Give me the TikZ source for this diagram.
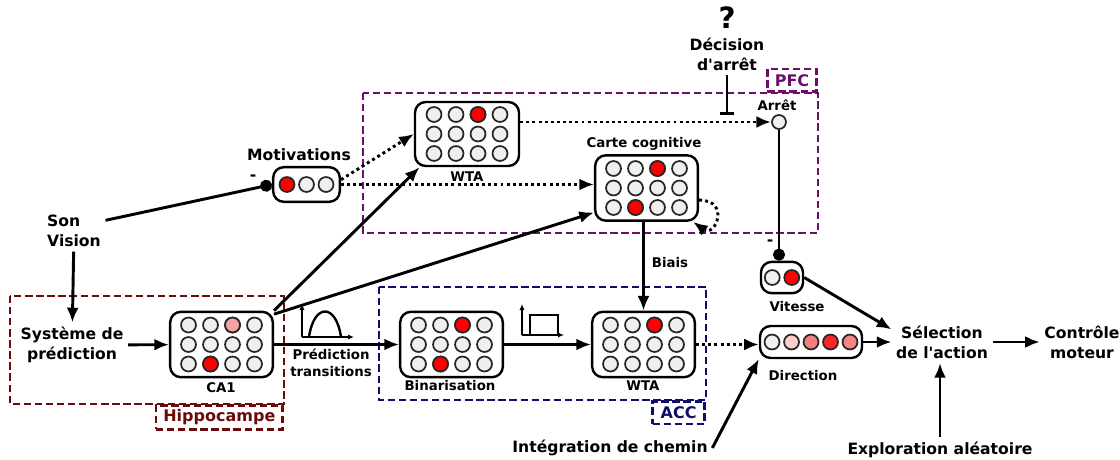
\documentclass[tikz,border=0pt]{standalone}
\usepackage{fontspec}
\setmainfont{DejaVu Sans}[Ligatures=TeXOff]
\usepackage{xcolor}
\usepackage{tikz}
\usetikzlibrary{positioning,arrows.meta}

\definecolor{gris}{HTML}{EFEFEF}
\definecolor{rouge}{HTML}{FF0000}
\definecolor{rose}{HTML}{F4A3A3}
\definecolor{roseclair}{HTML}{FCCDCD}
\definecolor{rosemoyen}{HTML}{F47E7E}
\definecolor{rougevif}{HTML}{FF2525}
\definecolor{rosefonce}{HTML}{F48686}
\definecolor{violetpfc}{HTML}{6B0F6B}
\definecolor{rougehippo}{HTML}{6B0A0A}
\definecolor{bleuacc}{HTML}{0F0F6B}

\tikzset{
  couche/.style={draw,line width=1.8pt,rounded corners=8pt,fill=white,inner sep=0pt},
  neurone/.style={draw=black!85,line width=1.3pt,fill=gris},
  fleche/.style={-{Latex[length=11pt,width=9pt]},line width=2.2pt},
  pointille/.style={fleche,dash pattern=on 2.2pt off 2.4pt},
  inhib/.style={-{Circle[length=9pt]},line width=2.2pt},
  cadre/.style={line width=2pt,dash pattern=on 5.5pt off 2.8pt},
  etiq/.style={cadre,draw,inner sep=0pt,minimum height=17pt,font=\fontsize{12}{14}\selectfont\bfseries},
  petit/.style={font=\fontsize{10}{12.7}\selectfont\bfseries},
  axe/.style={-{Latex[length=4.5pt,width=3.8pt]},line width=1.1pt}
}

\begin{document}
\begin{tikzpicture}[x=0.75pt,y=-0.75pt,every node/.style={font=\fontsize{11.7}{15}\selectfont\bfseries}]
  \useasboundingbox (0,0) rectangle (1120,460);
  % zones
  \draw[cadre,violetpfc] (363,93) rectangle (818,233);
  \draw[cadre,rougehippo] (10,296) rectangle (284,404);
  \draw[cadre,bleuacc] (379,287) rectangle (706,400);
  \node[etiq,violetpfc,minimum width=37pt,anchor=south east] (pfc) at (818,93) {PFC};
  \node[etiq,rougehippo,minimum width=95pt,minimum height=18pt,anchor=north east] (hippo) at (284,404) {Hippocampe};
  \node[etiq,bleuacc,minimum width=39pt,anchor=north east] (acc) at (706,400) {ACC};

  % couches de neurones
  \node[couche,minimum width=77pt,minimum height=49pt] (ca1) at (221.5,344.5) {};
  \node[couche,minimum width=78pt,minimum height=48pt] (wtaP) at (467,134) {};
  \node[couche,minimum width=77pt,minimum height=49pt] (carte) at (646.5,188) {};
  \node[couche,minimum width=77pt,minimum height=49pt] (bin) at (451.5,344.5) {};
  \node[couche,minimum width=77pt,minimum height=49pt] (wtaA) at (643.5,344.5) {};
  \node[couche,minimum width=50pt,minimum height=26pt] (motiv) at (306.5,184.5) {};
  \node[couche,minimum width=31.5pt,minimum height=23.5pt] (vit) at (782,277.5) {};
  \node[couche,minimum width=76.5pt,minimum height=24pt] (dir) at (811,342) {};
  \node[circle,neurone,minimum size=10.5pt,inner sep=0pt] (arret) at (779,122) {};

  \foreach \g in {ca1,wtaP,carte,bin,wtaA}
    \foreach \c in {0,...,3}
      \foreach \r in {0,1,2}
        \draw[neurone] ([shift={(\c*22-33,\r*19.5-19.5)}]\g.center) circle (5.6pt);
  \foreach \g/\c/\r/\col in {ca1/2/0/rose,ca1/1/2/rouge,wtaP/2/0/rouge,carte/2/0/rouge,
      carte/1/2/rouge,bin/2/0/rouge,bin/1/2/rouge,wtaA/2/0/rouge}
    \draw[neurone,fill=\col] ([shift={(\c*22-33,\r*19.5-19.5)}]\g.center) circle (5.6pt);
  \foreach \i/\col in {0/rouge,1/gris,2/gris}
    \draw[neurone,fill=\col] ([shift={(\i*19.5-19.5,0)}]motiv.center) circle (5.6pt);
  \foreach \i/\col in {0/gris,1/rouge}
    \draw[neurone,fill=\col] ([shift={(\i*19.5-9.75,0)}]vit.center) circle (5.6pt);
  \foreach \i/\col in {0/gris,1/roseclair,2/rosemoyen,3/rougevif,4/rosefonce}
    \draw[neurone,fill=\col] ([shift={(\i*19.5-39,0)}]dir.center) circle (5.6pt);

  % textes
  \node[petit] (ca1lbl) at (221,388) {CA1};
  \node[petit] (wtaPlbl) at (467,177) {WTA};
  \node[petit] (cartelbl) at (644,144) {Carte cognitive};
  \node[petit] (binlbl) at (450,386) {Binarisation};
  \node[petit] (wtaAlbl) at (643,386) {WTA};
  \node[petit] (vitlbl) at (797,307) {Vitesse};
  \node[petit] (dirlbl) at (803,376) {Direction};
  \node[petit] (arretlbl) at (777,105) {Arrêt};
  \node (motivlbl) at (299,155) {Motivations};
  \node[align=left] (son) at (74,231) {Son\\Vision};
  \node[align=center] (sys) at (72,345) {Système de\\prédiction};
  \node[petit,align=center] (pred) at (331,363) {Prédiction\\transitions};
  \node[petit] (biais) at (670,263) {Biais};
  \node[font=\fontsize{22}{24}\selectfont\bfseries] (quest) at (727,18) {?};
  \node[align=center] (dec) at (727,54) {Décision\\d'arrêt};
  \node[align=center] (sel) at (942,342) {Sélection\\de l'action};
  \node[align=center] (ctrl) at (1082,342) {Contrôle\\moteur};
  \node (integ) at (610,448) {Intégration de chemin};
  \node (explo) at (940,450) {Exploration aléatoire};
  \node (moins1) at (253,178) {-};
  \node (moins2) at (770,243) {-};
  \coordinate (stop) at (727,115);

  % liaisons
  \draw[inhib] ([yshift=8pt]son.east) -- (motiv.west);
  \draw[fleche] (son) -- (sys);
  \draw[fleche] (sys) -- (ca1);
  \draw[fleche] (ca1.north east) -- (wtaP.-145);
  \draw[fleche] (ca1.30) -- (carte.205);
  \draw[fleche] (ca1) -- (bin);
  \draw[fleche] (bin) -- (wtaA);
  \draw[pointille] (motiv.8) -- (wtaP.west);
  \draw[pointille] (motiv.east) -- (motiv.east -| carte.west);
  \draw[pointille] (wtaP.east |- arret) -- (arret);
  \draw[-{Bar[width=11pt]},line width=2.2pt] (dec) -- (stop);
  \draw[pointille] (carte.-13) .. controls +(32,0) and +(22,16) .. (carte.-36);
  \draw[fleche] (wtaA.north |- carte.south) -- (wtaA.north);
  \draw[inhib] (arret) -- (arret |- vit.north);
  \draw[pointille] (wtaA.east) -- (wtaA.east -| dir.west);
  \draw[fleche] (integ.east) -- (dir.-162);
  \draw[fleche] (vit.east) -- (sel.166);
  \draw[fleche] (dir) -- (sel);
  \draw[fleche] (explo.north) -- (explo.north |- sel.south);
  \draw[fleche] (sel) -- (ctrl);

  % profils d'activite
  \draw[axe] (302,337) -- (302,304);
  \draw[axe] (302,337) -- (354,337);
  \draw[line width=1.8pt] (309,337) .. controls (314,303) and (336,303) .. (341,337);
  \draw[axe] (522,335) -- (522,304);
  \draw[axe] (522,335) -- (564,335);
  \draw[line width=1.6pt] (530,335) -- (530,315) -- (558,315) -- (558,335);
\end{tikzpicture}
\end{document}
